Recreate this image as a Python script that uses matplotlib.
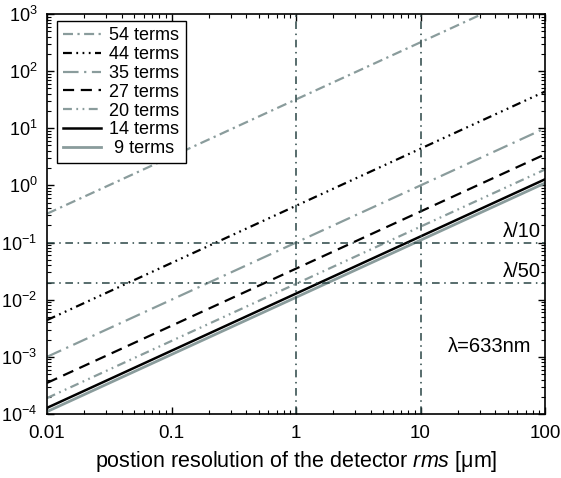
import numpy as np
import matplotlib
matplotlib.use('Agg')
import matplotlib.pyplot as plt
from matplotlib.ticker import FixedLocator, LogLocator, NullFormatter, FuncFormatter

plt.rcParams['font.family'] = ['Liberation Sans', 'DejaVu Sans']
plt.rcParams['mathtext.fontset'] = 'custom'
plt.rcParams['mathtext.rm'] = 'Liberation Sans'
plt.rcParams['mathtext.it'] = 'Liberation Sans:italic'

# position resolution (rms, µm) at the ends of each line
rms = [0.01, 100]

# wavefront error for each number of terms at x=0.01 and x=100
terms = ['54 terms', '44 terms', '35 terms', '27 terms', '20 terms', '14 terms', ' 9 terms']
err_54 = [0.32, 3200]
err_44 = [0.0044, 44]
err_35 = [0.001, 10]
err_27 = [0.00035, 3.5]
err_20 = [0.00019, 1.9]
err_14 = [0.000128, 1.28]
err_9 = [0.00011, 1.1]

lam_levels = [0.1, 0.02]
lam_labels = ['λ/10', 'λ/50']
v_lines = [1, 10]

gray = '#8a9c9c'
ref = '#2a4545'

fig = plt.figure(figsize=(5.61, 4.78), dpi=100)
ax = fig.add_axes([0.0838, 0.1339, 0.8877, 0.8368])

series = [err_54, err_44, err_35, err_27, err_20, err_14, err_9]
styles = [
    dict(color=gray, lw=1.6, dashes=(4.5, 2, 1, 2)),
    dict(color='black', lw=1.6, dashes=(4, 2, 0.8, 2, 0.8, 2, 0.8, 2)),
    dict(color=gray, lw=1.6, dashes=(7, 2.5, 1, 2.5)),
    dict(color='black', lw=1.6, dashes=(5, 3)),
    dict(color=gray, lw=1.6, dashes=(4, 2, 0.8, 2, 0.8, 2)),
    dict(color='black', lw=1.8, linestyle='-'),
    dict(color=gray, lw=2.0, linestyle='-'),
]
for lab, vals, st in zip(terms, series, styles):
    ax.plot(rms, vals, label=lab, **st)

for y in lam_levels:
    ax.axhline(y, color=ref, lw=1.1, dashes=(5, 3, 1, 3))
for x in v_lines:
    ax.axvline(x, color=ref, lw=1.1, dashes=(5, 3, 1, 3))

for y, t in zip(lam_levels, lam_labels):
    ax.text(93, y * 1.06, t, ha='right', va='bottom', fontsize=14.5)
ax.text(16.5, 0.0015, 'λ=633nm', ha='left', va='center', fontsize=14.5)

ax.set_xscale('log')
ax.set_yscale('log')
ax.set_xlim(0.01, 100)
ax.set_ylim(1e-4, 1e3)

ax.xaxis.set_major_locator(FixedLocator([0.01, 0.1, 1, 10, 100]))
ax.xaxis.set_major_formatter(FuncFormatter(lambda v, p: '%g' % v))
ax.xaxis.set_minor_locator(LogLocator(base=10, subs=np.arange(2, 10), numticks=20))
ax.xaxis.set_minor_formatter(NullFormatter())
ax.yaxis.set_major_locator(LogLocator(base=10, numticks=20))
ax.yaxis.set_major_formatter(FuncFormatter(lambda v, p: r'$10^{%d}$' % round(np.log10(v))))
ax.yaxis.set_minor_locator(LogLocator(base=10, subs=np.arange(2, 10), numticks=20))
ax.yaxis.set_minor_formatter(NullFormatter())

ax.tick_params(which='both', direction='in', top=True, right=True)
ax.tick_params(axis='x', pad=8, labelsize=13.5)
ax.tick_params(axis='y', pad=7, labelsize=13)
ax.tick_params(which='major', length=5, width=1)
ax.tick_params(which='minor', length=3, width=0.8)
for s in ax.spines.values():
    s.set_linewidth(1.2)

ax.set_xlabel('postion resolution of the detector $\\it{rms}$ [μm]', fontsize=15.5, labelpad=5)

leg = ax.legend(loc='upper left', bbox_to_anchor=(10 / 498, 1 - 7 / 400), borderaxespad=0,
                fontsize=13, fancybox=False, framealpha=1, edgecolor='black',
                handlelength=2.1, labelspacing=0.1, handletextpad=0.45, borderpad=0.35)
leg.get_frame().set_linewidth(1.0)

fig.savefig('out.png', dpi=100)
